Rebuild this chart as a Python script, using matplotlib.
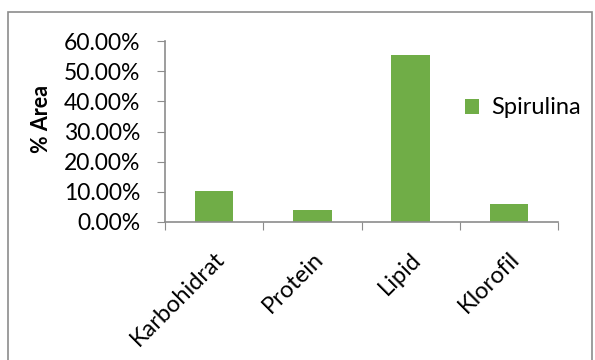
import matplotlib.pyplot as plt
from matplotlib.patches import Rectangle
from matplotlib.ticker import PercentFormatter

categories = ['Karbohidrat', 'Protein', 'Lipid', 'Klorofil']
spirulina = [10.3, 3.9, 55.4, 6.0]
series_name = 'Spirulina'

plt.rcParams['font.family'] = ['Lato', 'DejaVu Sans']
green = '#70AD47'
grey = '#8c8c8c'
fs = 17

fig = plt.figure(figsize=(5.95, 3.6), dpi=100)
# outer chart border
fig.patches.append(Rectangle((8 / 595, -0.01), 584 / 595, 1 - 12 / 360 + 0.01,
                             transform=fig.transFigure, fill=False,
                             edgecolor=grey, linewidth=1.2))

ax = fig.add_axes([165 / 595, 1 - 222 / 360, (558 - 165) / 595, (222 - 41) / 360])
x = range(len(categories))
ax.bar(x, spirulina, width=0.39, color=green, label=series_name)

ax.set_xlim(-0.5, len(categories) - 0.5)
ax.set_ylim(0, 60)
ax.set_yticks(range(0, 61, 10))
ax.yaxis.set_major_formatter(PercentFormatter(decimals=2))
ax.set_xticks([i - 0.5 for i in range(len(categories) + 1)], minor=False)
ax.set_xticklabels([])
ax.set_xticks(list(x), minor=True)
ax.set_xticklabels(categories, minor=True, rotation=45, ha='right',
                   rotation_mode='anchor', fontsize=fs)
ax.tick_params(axis='x', which='minor', length=0, pad=19)
ax.tick_params(axis='x', which='major', length=6, color=grey, direction='out')
ax.tick_params(axis='y', length=6, color=grey, labelsize=16.5, pad=12)

for s in ['top', 'right']:
    ax.spines[s].set_visible(False)
for s in ['left', 'bottom']:
    ax.spines[s].set_color(grey)
    ax.spines[s].set_linewidth(1.2)

ax.set_ylabel('% Area', fontsize=15.5, fontweight='bold')
ax.yaxis.set_label_coords(-0.288, 0.569)

ax.legend(loc='center left', bbox_to_anchor=(0.71, 0.63), frameon=False,
          fontsize=fs, handlelength=0.6, handleheight=0.6, handletextpad=0.5)

fig.savefig('out.png', dpi=100)
